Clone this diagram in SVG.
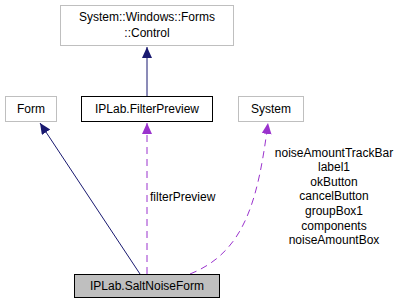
<svg xmlns="http://www.w3.org/2000/svg" width="406" height="305" viewBox="0 0 406 305">
<style>
text{font-family:"Liberation Sans",Arial,sans-serif;font-size:12px;fill:#000;text-anchor:middle}
.ext{fill:#fff;stroke:#bfbfbf;stroke-width:1}
.cls{fill:#fff;stroke:#000;stroke-width:1}
.cur{fill:#bfbfbf;stroke:#000;stroke-width:1}
.inh{fill:none;stroke:#191970;stroke-width:1}
.use{fill:none;stroke:#9a32cd;stroke-width:1;stroke-dasharray:7,5}
</style>
<defs>
<marker id="ah" markerWidth="12" markerHeight="12" refX="11" refY="5" orient="auto" markerUnits="userSpaceOnUse"><path d="M0,0 L11,5 L0,10 Z" fill="#191970"/></marker>
<marker id="ap" markerWidth="12" markerHeight="12" refX="11" refY="5" orient="auto" markerUnits="userSpaceOnUse"><path d="M0,0 L11,5 L0,10 Z" fill="#9a32cd"/></marker>
</defs>
<g id="connectors">
<path class="inh" d="M147,96 L147,47" marker-end="url(#ah)"/>
<path class="inh" d="M140,274 L40,123" marker-end="url(#ah)"/>
<path class="use" d="M147,274 L147,123" marker-end="url(#ap)"/>
<path class="use" d="M190,274 C245,252 258,200 268,123" marker-end="url(#ap)"/>
<text x="150" y="201" style="text-anchor:start">filterPreview</text>
<text x="334" y="157">noiseAmountTrackBar</text>
<text x="334" y="171">label1</text>
<text x="334" y="186">okButton</text>
<text x="334" y="200">cancelButton</text>
<text x="334" y="215">groupBox1</text>
<text x="334" y="230">components</text>
<text x="334" y="244">noiseAmountBox</text>
</g>
<g id="control"><rect class="ext" x="60.5" y="5.5" width="173" height="40"/><text x="147" y="21">System::Windows::Forms</text><text x="147" y="37">::Control</text></g>
<g id="form"><rect class="ext" x="5.5" y="96.5" width="51" height="25"/><text x="31" y="113">Form</text></g>
<g id="filterpreview"><rect class="cls" x="81.5" y="96.5" width="131" height="25"/><text x="147" y="113">IPLab.FilterPreview</text></g>
<g id="system"><rect class="ext" x="238.5" y="96.5" width="65" height="25"/><text x="271" y="113">System</text></g>
<g id="saltnoiseform"><rect class="cur" x="74.5" y="274.5" width="145" height="23"/><text x="147" y="290">IPLab.SaltNoiseForm</text></g>
</svg>
